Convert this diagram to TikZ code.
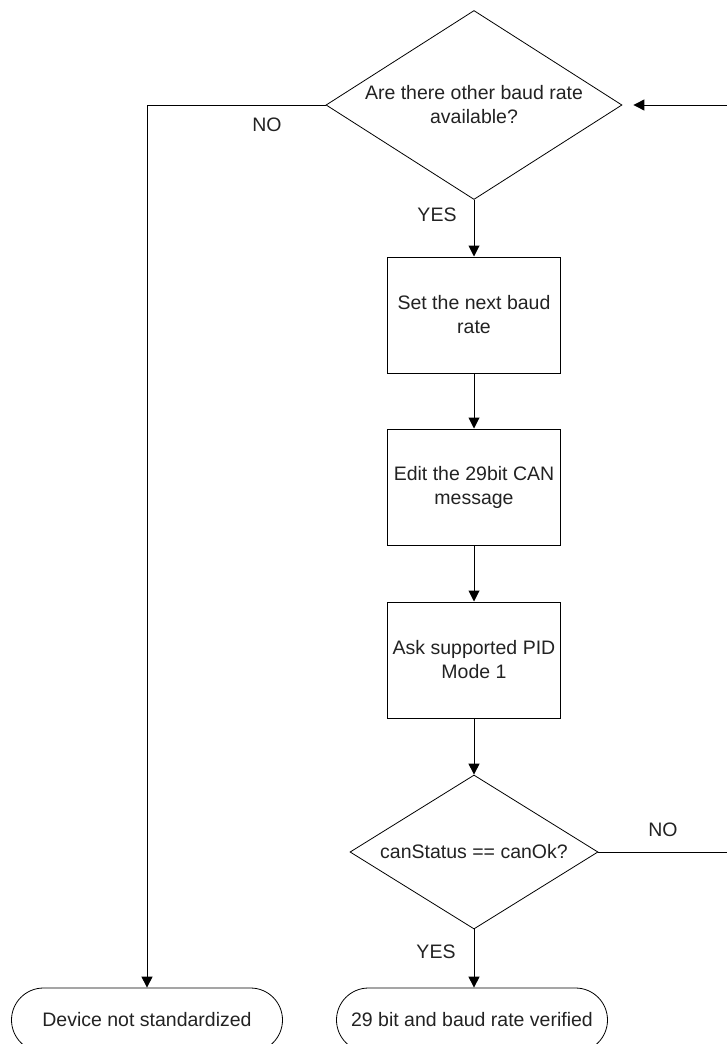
\documentclass[tikz,border=0pt]{standalone}
\usepackage{fontspec}
\setmainfont{Liberation Sans}
\usetikzlibrary{arrows.meta,shapes.geometric,shapes.misc}
\definecolor{fcgray}{HTML}{222222}
\tikzset{
  process/.style={draw=black, line width=1pt, minimum width=173pt, minimum height=116pt, inner sep=0pt, align=center, text=fcgray},
  decision/.style={draw=black, line width=0.8pt, diamond, inner sep=0pt, align=center, text=fcgray},
  terminal/.style={draw=black, line width=0.8pt, rounded rectangle, minimum width=271pt, minimum height=64pt, inner sep=0pt, text=fcgray},
  flow/.style={-{Triangle[length=11pt,width=11pt]}, line width=1pt, draw=black},
  lbl/.style={inner sep=0pt, text=fcgray},
}
\begin{document}
\begin{tikzpicture}[x=1pt, y=-1pt, font=\fontsize{19.5}{24}\selectfont]
  \useasboundingbox (0,0) rectangle (726,1044);
  % Schritte
  \node[decision, minimum width=296pt, minimum height=189pt, aspect=1.57] (ask) at (474,105) {Are there other baud rate\\available?};
  \node[process] (setrate) at (474,315) {Set the next baud\\rate};
  \node[process] (editmsg) at (474,487) {Edit the 29bit CAN\\message};
  \node[process] (askpid) at (474,660) {Ask supported PID\\Mode 1};
  \node[decision, minimum width=248pt, minimum height=154pt, aspect=1.6] (check) at (474,852) {canStatus == canOk?};
  \node[terminal] (fail) at (147,1020) {Device not standardized};
  \node[terminal] (done) at (472,1020) {29 bit and baud rate verified};
  % Verbindungen
  \draw[flow] (ask.south) -- (setrate.north);
  \draw[flow] (setrate.south) -- (editmsg.north);
  \draw[flow] (editmsg.south) -- (askpid.north);
  \draw[flow] (askpid.south) -- (check.north);
  \draw[flow] (check.south) -- (check.south |- done.north);
  \draw[flow] (ask.west) -| (fail.north);
  % Rückführung außerhalb des Blattes
  \coordinate (loopB) at (745,852);
  \coordinate (loopT) at (745,105);
  \draw[flow, shorten >=11pt] (check.east) -- (loopB) -- (loopT) -- (ask.east);
  % Beschriftungen
  \node[lbl] (noL) at (267,125) {NO};
  \node[lbl] (yesT) at (437,215) {YES};
  \node[lbl] (noR) at (663,830) {NO};
  \node[lbl] (yesB) at (436,952) {YES};
\end{tikzpicture}
\end{document}
